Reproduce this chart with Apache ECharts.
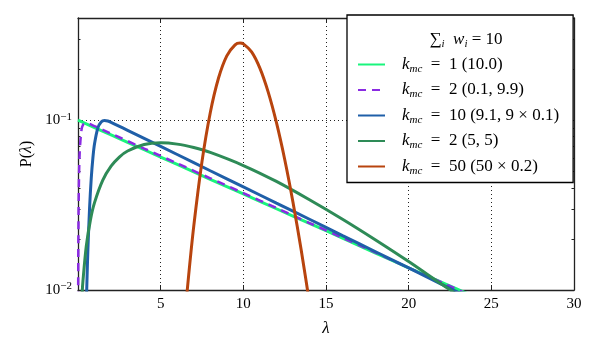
<!DOCTYPE html>
<html>
<head>
<meta charset="utf-8">
<script src="https://cdn.jsdelivr.net/npm/echarts@6/dist/echarts.min.js"></script>
<style>
  html, body { margin: 0; padding: 0; background: #fff; }
  #main { width: 600px; height: 350px; }
</style>
</head>
<body>
<div id="main"></div>
<script>
// curves, [lambda, P(lambda)]
const curveK1 = [
  [0, 0.1], [2, 0.0819], [4, 0.067], [6, 0.0549], [8, 0.0449], [10, 0.0368],
  [12, 0.0301], [14, 0.0247], [16, 0.0202], [18, 0.0165], [20, 0.0135],
  [22, 0.0111], [24, 0.0091]
];
const curveK2a = [
  [0.005, 0.005], [0.01, 0.0096], [0.02, 0.0183], [0.05, 0.0396], [0.1, 0.0635],
  [0.2, 0.0862], [0.3, 0.0939], [0.5, 0.0963], [1, 0.0922], [2, 0.0834],
  [4, 0.0681], [6, 0.0557], [8, 0.0455], [10, 0.0372], [12, 0.0304],
  [14, 0.0248], [16, 0.0203], [18, 0.0166], [20, 0.0135], [22, 0.0111], [24, 0.009]
];
const curveK10 = [
  [0.4, 0.0025], [0.5, 0.0078], [0.55, 0.0121], [0.6, 0.0174], [0.7, 0.0305],
  [0.8, 0.0453], [0.9, 0.0599], [1.0, 0.0726], [1.2, 0.09], [1.4, 0.0976],
  [1.6, 0.0996], [1.8, 0.0989], [2, 0.0972], [3, 0.0872], [4, 0.0782],
  [6, 0.0628], [8, 0.0504], [10, 0.0405], [12, 0.0325], [14, 0.0261],
  [16, 0.0209], [18, 0.0168], [20, 0.0135], [22, 0.0108], [24, 0.0087]
];
const curveK2b = [
  [0.1, 0.0039], [0.25, 0.0095], [0.3, 0.0113], [0.5, 0.0181], [0.75, 0.0258],
  [1, 0.0327], [1.5, 0.0444], [2, 0.0536], [2.5, 0.0607], [3, 0.0659],
  [4, 0.0719], [5, 0.0736], [6, 0.0723], [7, 0.069], [8, 0.0646],
  [10, 0.0541], [12, 0.0436], [14, 0.034], [16, 0.0261], [18, 0.0197],
  [20, 0.0147], [22, 0.0108], [23, 0.0093], [24, 0.0079]
];
const curveK50 = [
  [6, 0.0018], [6.5, 0.0076], [6.7, 0.0124], [7, 0.0237], [7.5, 0.0571],
  [8, 0.1107], [8.5, 0.1772], [9, 0.2394], [9.5, 0.278], [9.8, 0.2845],
  [10, 0.2817], [10.5, 0.2525], [11, 0.2026], [11.5, 0.1468], [12, 0.097],
  [12.5, 0.0589], [13, 0.033], [13.5, 0.0172], [14, 0.0084], [14.5, 0.0039]
];

const seriesNames = ['1 (10.0)', '2 (0.1, 9.9)', '10 (9.1, 9 × 0.1)', '2 (5, 5)', '50 (50 × 0.2)'];
const seriesColors = ['#19f57c', '#8a2be2', '#1f5fa8', '#2e8b57', '#b8440e'];
const seriesData = [curveK1, curveK2a, curveK10, curveK2b, curveK50];

const yMinorTicks = [0.02, 0.03, 0.04, 0.05, 0.06, 0.07, 0.08, 0.09, 0.2, 0.3];

const serif = 'Liberation Serif';
const yMin = 0.01, yMax = 0.4;
const minorPos = yMinorTicks.map((v) => Math.log10(v));

const chart = echarts.init(document.getElementById('main'), null, { renderer: 'canvas' });

const lineCol = '#222';
const majorLogAxis = (pos, labels) => ({
  type: 'log',
  logBase: 10,
  position: pos,
  min: yMin,
  max: yMax,
  interval: 1,
  name: labels ? '{r|P(}{i|λ}{r|)}' : '',
  nameLocation: 'middle',
  nameGap: 40,
  nameTextStyle: {
    rich: {
      r: { fontFamily: serif, fontSize: 16, color: '#000' },
      i: { fontFamily: serif, fontSize: 16, fontStyle: 'italic', color: '#000' },
    },
  },
  axisLine: { show: true, lineStyle: { color: lineCol, width: 1.3 } },
  axisTick: { show: true, inside: true, length: 5, lineStyle: { color: lineCol } },
  splitLine: {
    show: labels,
    lineStyle: { color: '#222', type: [1, 3], width: 1 },
  },
  axisLabel: {
    show: labels,
    showMaxLabel: false,
    margin: 6,
    formatter(v) {
      const e = Math.round(Math.log10(v));
      return '{b|10}{s|' + (e < 0 ? '−' + (-e) : e) + '}';
    },
    rich: {
      b: { fontFamily: serif, fontSize: 15, color: '#000', lineHeight: 18 },
      s: { fontFamily: serif, fontSize: 11, color: '#000', verticalAlign: 'top' },
    },
  },
});
const minorAxis = (pos) => ({
  type: 'value',
  position: pos,
  min: Math.log10(yMin),
  max: Math.log10(yMax),
  axisLine: { show: false },
  splitLine: { show: false },
  axisLabel: { show: false },
  axisTick: {
    show: true,
    inside: true,
    length: 2.5,
    customValues: minorPos,
    lineStyle: { color: lineCol },
  },
});

const xAxisBase = (pos, labels) => ({
  type: 'value',
  position: pos,
  min: 0,
  max: 30,
  interval: 5,
  name: labels ? 'λ' : '',
  nameLocation: 'middle',
  nameGap: 30,
  nameTextStyle: { fontFamily: serif, fontSize: 17, fontStyle: 'italic', color: '#000' },
  axisLine: { show: true, lineStyle: { color: lineCol, width: 1.3 } },
  axisTick: { show: true, inside: true, length: 5, lineStyle: { color: lineCol } },
  splitLine: {
    show: labels,
    lineStyle: { color: '#222', type: [1, 3], width: 1 },
  },
  axisLabel: {
    show: labels,
    margin: 7,
    fontFamily: serif,
    fontSize: 15,
    color: '#000',
    formatter: (v) => (v === 0 ? '' : String(v)),
  },
});

const option = {
  animation: false,
  backgroundColor: '#fff',
  grid: { left: 78, right: 26, top: 18, bottom: 60 },
  title: {
    left: 461,
    top: 25,
    textAlign: 'center',
    z: 10,
    text: '{s|∑}{sub|i}{w|  w}{sub|i}{t| = 10}',
    textStyle: {
      fontWeight: 'normal',
      rich: {
        s: { fontFamily: serif, fontSize: 17, fontWeight: 'normal', color: '#000', lineHeight: 20 },
        sub: { fontFamily: serif, fontSize: 11, fontWeight: 'normal', fontStyle: 'italic', color: '#000', verticalAlign: 'bottom' },
        w: { fontFamily: serif, fontSize: 17, fontWeight: 'normal', fontStyle: 'italic', color: '#000' },
        t: { fontFamily: serif, fontSize: 17, fontWeight: 'normal', color: '#000' },
      },
    },
  },
  legend: {
    orient: 'vertical',
    left: 347,
    top: 15,
    padding: [41, 14, 6, 10],
    itemWidth: 27,
    itemHeight: 14,
    itemGap: 7,
    backgroundColor: '#fff',
    borderColor: '#000',
    borderWidth: 1.3,
    borderRadius: 0,
    itemStyle: { opacity: 0 },
    data: seriesNames,
    formatter: (name) => '{k|k}{m|mc}{t|\u2002=\u2002' + name + '}',
    textStyle: {
      padding: [0, 0, 0, 12],
      rich: {
        k: { fontFamily: serif, fontSize: 17, fontStyle: 'italic', color: '#000', lineHeight: 20 },
        m: { fontFamily: serif, fontSize: 11, fontStyle: 'italic', color: '#000', verticalAlign: 'bottom' },
        t: { fontFamily: serif, fontSize: 17, color: '#000' },
      },
    },
  },
  xAxis: [xAxisBase('bottom', true), xAxisBase('top', false)],
  yAxis: [majorLogAxis('left', true), minorAxis('left'), majorLogAxis('right', false), minorAxis('right')],
  series: seriesData.map((d, i) => ({
    name: seriesNames[i],
    type: 'line',
    xAxisIndex: 0,
    yAxisIndex: 0,
    data: d,
    smooth: 0.3,
    symbol: 'none',
    clip: true,
    color: seriesColors[i],
    lineStyle: {
      width: i === 1 ? 2.5 : 3,
      type: i === 1 ? [8, 6] : 'solid',
      color: seriesColors[i],
    },
  })),
};

chart.setOption(option);
</script>
</body>
</html>
